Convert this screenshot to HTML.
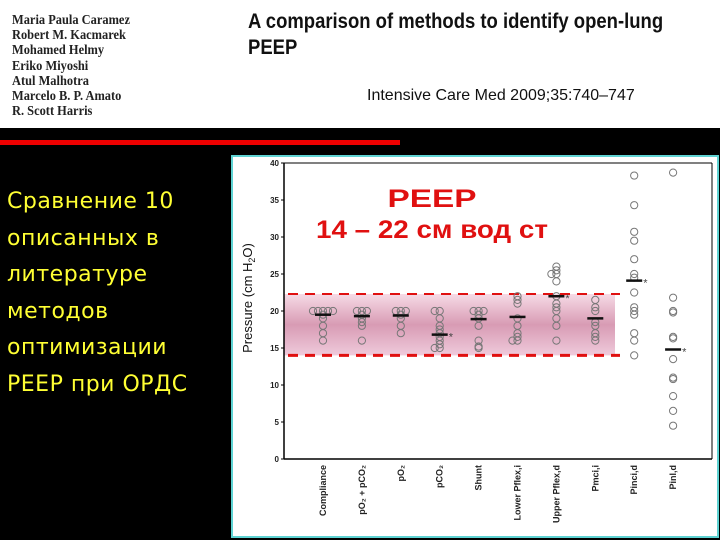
<!DOCTYPE html>
<html><head><meta charset="utf-8"><style>
body{margin:0;width:720px;height:540px;background:#000;position:relative;overflow:hidden;font-family:"Liberation Sans",sans-serif}
#top{position:absolute;left:0;top:0;width:720px;height:128px;background:#fff}
.auth{position:absolute;left:12px;top:12px;font-family:"Liberation Serif",serif;font-size:13.5px;line-height:15.2px;color:#222;font-weight:bold;transform:scaleX(0.92);transform-origin:left top}
.title{position:absolute;left:248px;top:9px;font-size:21px;font-weight:bold;line-height:26px;color:#111;transform:scaleX(0.88);transform-origin:left top;white-space:nowrap}
.journal{position:absolute;left:367px;top:87px;font-size:16px;color:#111}
#redline{position:absolute;left:0;top:140px;width:400px;height:5px;background:#e00}
#left{position:absolute;left:7px;top:184px;color:#ffff33;font-family:"DejaVu Sans",sans-serif;font-size:22px;line-height:36.5px;letter-spacing:0.5px}
#panel{position:absolute;left:231px;top:155px;width:484px;height:379px;background:#fff;border:2px solid #5fd3d3}
svg{position:absolute;left:0;top:0}
</style></head><body>
<div id="top">
<div class="auth">Maria Paula Caramez<br>Robert M. Kacmarek<br>Mohamed Helmy<br>Eriko Miyoshi<br>Atul Malhotra<br>Marcelo B. P. Amato<br>R. Scott Harris</div>
<div class="title">A comparison of methods to identify open-lung<br>PEEP</div>
<div class="journal">Intensive Care Med 2009;35:740–747</div>
</div>
<div id="redline"></div>
<div id="left">Сравнение 10<br>описанных в<br>литературе<br>методов<br>оптимизации<br>PEEP при ОРДС</div>
<div id="panel"></div>
<svg width="720" height="540" id="chart"></svg>
<script>
const categories=["Compliance","pO2 + pCO2","pO2","pCO2","Shunt","Lower Pflex,i","Upper Pflex,d","Pmci,i","Pinfl,d","Pinfl,d2"];
const labels=["Compliance","pO₂ + pCO₂","pO₂","pCO₂","Shunt","Lower Pflex,i","Upper Pflex,d","Pmci,i","Pinci,d","Pinl,d"];
const points=[
[20,20,20,20,20,19.5,19,18,17,16],
[20,20,20,19.5,19,18.5,18,16],
[20,20,20,19.5,19,18,17],
[20,20,19,18,17.5,17,16.5,16,15.5,15,15],
[20,20,20,19.5,19,18,16,15.2,15],
[22,21.5,21,19,18,17,16.5,16,16],
[26,25.5,25,25,24,22,21,20.5,20,19,18,16],
[21.5,20.5,20,18.5,18,17,16.5,16],
[38.3,34.3,30.7,29.5,27,25,24.5,22.5,20.5,20,19.5,17,16,14],
[38.7,21.8,20,19.8,16.5,16.3,13.5,11,10.8,8.5,6.5,4.5]];
const medians=[19.5,19.3,19.4,16.8,18.9,19.2,22,19,24.1,14.8];
const starred=[false,false,false,true,false,false,true,false,true,true];
const yTicks=[0,5,10,15,20,25,30,35,40];
const bandLow=14, bandHigh=22.3;
const svg=document.getElementById('chart');const NS="http://www.w3.org/2000/svg";
const X0=284,X1=712,Y0=459,Y1=163;
const y=v=>Y0-(v/40)*(Y0-Y1);
const x=i=>323+i*38.9;
function el(t,a,p){const e=document.createElementNS(NS,t);for(const k in a)e.setAttribute(k,a[k]);(p||svg).appendChild(e);return e;}
const defs=el('defs',{});
const g=el('linearGradient',{id:'bg',x1:0,y1:0,x2:0,y2:1},defs);
el('stop',{offset:'0','stop-color':'#f6dbe6'},g);el('stop',{offset:'0.5','stop-color':'#d89bb4'},g);el('stop',{offset:'1','stop-color':'#efcadb'},g);
let b=el('rect',{x:X0,y:y(bandHigh),width:331,height:y(bandLow)-y(bandHigh),fill:'url(#bg)'});

[bandHigh,bandLow].forEach((v,k)=>{const l=el('line',{x1:X0+4,x2:X0+336,y1:y(v),y2:y(v),stroke:'#e01010','stroke-width':k?3:2,'stroke-dasharray':'10 7'});
});
el('line',{x1:X0,y1:Y1,x2:X0,y2:Y0,stroke:'#000','stroke-width':1.5});
el('line',{x1:X0,y1:Y0,x2:X1,y2:Y0,stroke:'#000','stroke-width':1.5});
el('line',{x1:X0,y1:Y1,x2:X1,y2:Y1,stroke:'#000','stroke-width':1});
el('line',{x1:X1,y1:Y1,x2:X1,y2:Y0,stroke:'#000','stroke-width':1});
yTicks.forEach(v=>{el('line',{x1:X0-3,x2:X0,y1:y(v),y2:y(v),stroke:'#000'});
const t=el('text',{x:X0-5,y:y(v)+3,'font-size':8,'font-weight':'bold','text-anchor':'end',fill:'#222'});t.textContent=v;
});
const yt=el('text',{x:0,y:0,'font-size':13,'text-anchor':'middle',fill:'#111',transform:'translate(252,298) rotate(-90)'});
yt.innerHTML='Pressure (cm H<tspan font-size="9" dy="3">2</tspan><tspan dy="-3">O)</tspan>';

points.forEach((arr,i)=>{const cnt={};
arr.forEach(v=>{cnt[v]=(cnt[v]||0)+1;const n=cnt[v];const off=n===1?0:(n%2?1:-1)*Math.floor(n/2)*5;
const c=el('circle',{cx:x(i)+off,cy:y(v),r:3.6,fill:'none',stroke:'#777','stroke-width':1});
});
const m=el('line',{x1:x(i)-8,x2:x(i)+8,y1:y(medians[i]),y2:y(medians[i]),stroke:'#111','stroke-width':2.5});

if(starred[i]){const s=el('text',{x:x(i)+9,y:y(medians[i])+6,'font-size':11,fill:'#444'});s.textContent='*';}
const t=el('text',{x:0,y:0,'font-size':9,'font-weight':'bold','text-anchor':'end',fill:'#222',transform:`translate(${x(i)+3},465) rotate(-90)`});
t.textContent=labels[i];});
[['PEEP',207,89],['14 – 22 см вод ст',238,232]].forEach(([s,yy,w])=>{const t=el('text',{x:432-w/2,y:yy,'font-size':25,'font-weight':'bold',fill:'#e01010',textLength:w,lengthAdjust:'spacingAndGlyphs'});t.textContent=s;
});
</script>
</body></html>
